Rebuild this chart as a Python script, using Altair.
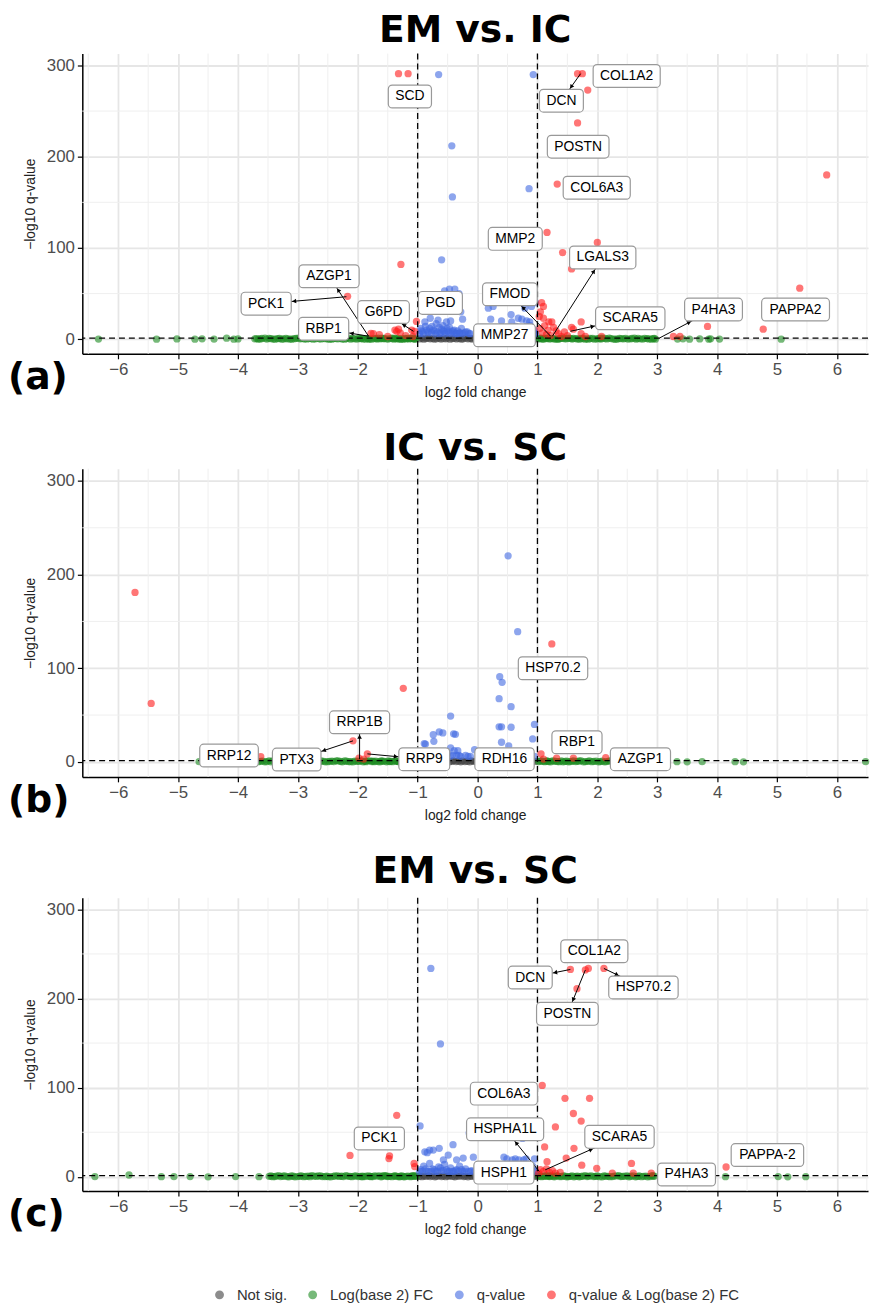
import altair as alt
import pandas as pd
import math

CATS = ["Not sig.", "Log(base 2) FC", "q-value", "q-value & Log(base 2) FC"]
COLORS = ["#404040", "#1a8a1f", "#4169e1", "#ff1a1a"]

X_MAJOR = [-6, -5, -4, -3, -2, -1, 0, 1, 2, 3, 4, 5, 6]
X_MINOR = [-6.5, -5.5, -4.5, -3.5, -2.5, -1.5, -0.5, 0.5, 1.5, 2.5, 3.5, 4.5, 5.5, 6.5]
Y_MAJOR = [0, 100, 200, 300]
Y_MINOR = [50, 150, 250]
FC_CUT = [-1, 1]
Q_CUT = [1.3]

# ---------------- Panel (a): EM vs. IC ----------------
A_ns = [(-0.97,0.3),(-0.93,1.0),(-0.9,0.1),(-0.86,0.7),(-0.83,1.2),(-0.79,0.4),(-0.75,0.9),(-0.72,0.0),
        (-0.68,0.6),(-0.64,1.1),(-0.61,0.2),(-0.57,0.8),(-0.53,0.5),(-0.5,1.2),(-0.46,0.1),(-0.42,0.7),
        (-0.39,1.0),(-0.35,0.3),(-0.31,0.9),(-0.27,0.0),(-0.24,0.6),(-0.2,1.1),(-0.16,0.4),(-0.12,0.8),
        (-0.09,0.2),(-0.05,1.0),(-0.01,0.5),(0.03,0.1),(0.07,0.9),(0.1,0.6),(0.14,1.2),(0.18,0.3),
        (0.22,0.8),(0.25,0.0),(0.29,1.0),(0.33,0.5),(0.37,0.2),(0.4,1.1),(0.44,0.7),(0.48,0.3),
        (0.52,0.9),(0.55,0.1),(0.59,0.6),(0.63,1.2),(0.67,0.4),(0.7,0.8),(0.74,0.0),(0.78,1.0),
        (0.82,0.5),(0.85,0.2),(0.89,1.1),(0.93,0.6),(0.97,0.3)]
A_fc = [(-6.33,0.2),(-5.36,0.1),(-5.02,0.3),(-4.72,0.0),(-4.6,0.4),(-4.4,0.2),(-4.19,1.1),(-4.07,0.1),(-4.0,0.3),
        (-3.72,0.4),(-3.66,0.1),(-3.6,0.8),(-3.52,0.2),(-3.45,0.6),(-3.38,0.0),(-3.31,0.9),(-3.24,0.3),
        (-3.17,0.5),(-3.1,0.1),(-3.03,1.0),(-2.96,0.4),(-2.89,0.2),(-2.82,0.7),(-2.75,0.0),(-2.68,1.1),
        (-2.61,0.3),(-2.54,0.6),(-2.47,0.1),(-2.4,0.9),(-2.33,0.4),(-2.26,0.2),(-2.19,0.8),(-2.12,0.0),
        (-2.05,0.5),(-1.98,1.2),(-1.91,0.3),(-1.84,0.7),(-1.77,0.1),(-1.7,1.0),(-1.63,0.4),(-1.56,0.8),
        (-1.49,0.2),(-1.42,1.1),(-1.35,0.5),(-1.28,0.0),(-1.21,0.9),(-1.14,0.3),(-1.08,1.2),(-1.03,0.6),
        (-1.95,0.6),(-1.8,0.2),(-1.66,1.1),(-1.52,0.4),(-1.38,0.9),(-1.24,0.1),(-1.11,0.7),(-1.05,0.0),
        (-3.55,1.2),(-3.27,0.0),(-2.99,1.2),(-2.71,0.5),(-2.43,0.0),(-2.15,1.2),(-1.87,0.0),(-1.6,1.2),
        (-1.31,0.2),(-1.17,1.0),
        (-3.69,0.7),(-3.63,0.3),(-3.48,1.0),(-3.41,0.2),(-3.34,0.6),(-3.2,0.8),(-3.13,0.2),(-3.06,0.6),
        (-2.92,0.9),(-2.85,0.3),(-2.78,1.0),(-2.64,0.5),(-2.57,1.1),(-2.5,0.3),(-2.36,0.7),(-2.29,1.0),
        (-2.22,0.1),(-2.08,0.9),(-2.01,0.2),(-1.94,1.0),(-1.82,0.5),(-1.73,0.8),(-1.68,0.2),(-1.58,0.6),
        (-1.45,0.9),(-1.4,0.1),(-1.33,1.0),(-1.26,0.6),(-1.19,0.3),(-1.12,1.1),(-1.06,0.4),
        (1.02,0.5),(1.06,1.1),(1.1,0.1),(1.15,0.8),(1.2,0.3),(1.25,1.0),(1.3,0.5),(1.35,0.0),(1.4,0.9),
        (1.46,0.4),(1.52,1.2),(1.58,0.2),(1.64,0.7),(1.7,0.0),(1.76,1.0),(1.82,0.4),(1.88,0.8),(1.95,0.1),
        (2.02,0.6),(2.09,1.1),(2.16,0.3),(2.23,0.7),(2.3,0.0),(2.37,0.9),(2.44,0.4),(2.51,0.2),(2.58,0.8),
        (2.65,0.1),(2.72,0.5),(2.79,1.0),(2.86,0.3),(2.93,0.6),(2.97,0.1),
        (1.13,1.2),(1.33,0.2),(1.55,0.9),(1.79,0.0),(2.05,1.2),(2.33,0.1),(2.62,1.2),(2.9,0.0),
        (1.04,0.8),(1.08,0.3),(1.17,1.1),(1.22,0.6),(1.28,0.2),(1.37,0.7),(1.43,1.1),(1.49,0.6),(1.6,1.0),
        (1.67,0.3),(1.73,0.8),(1.85,0.1),(1.92,0.9),(1.99,0.5),(2.06,0.2),(2.13,0.8),(2.2,1.1),(2.27,0.2),
        (2.4,0.6),(2.47,1.0),(2.55,0.4),(2.68,0.9),(2.76,0.2),(2.83,0.7),(2.95,1.0),
        (3.34,0.2),(3.43,0.5),(3.54,0.1),(3.71,0.3),(3.86,0.0),(3.89,0.4),(4.04,0.2),(5.07,0.1)]
A_q = [(-0.65,290),(0.93,290),(-0.43,212),(0.86,165),(-0.42,156),(-0.6,87),
       (-0.55,53),(-0.47,55),(-0.38,55),(-0.31,50),(-0.42,41),(-0.28,30),(-0.25,22),
       (-0.95,12),(-0.92,8),(-0.88,19),(-0.85,10),(-0.82,7),(-0.79,23),(-0.76,14),(-0.72,9),(-0.69,17),
       (-0.66,21),(-0.63,6),(-0.6,11),(-0.58,15),(-0.55,8),(-0.52,19),(-0.5,9),(-0.47,13),(-0.45,20),
       (-0.42,8),(-0.39,10),(-0.36,6),(-0.33,9),(-0.3,7),(-0.27,12),(-0.22,7),(-0.17,8),(-0.12,6),
       (-0.97,6),(-0.94,9),(-0.9,6),(-0.87,14),(-0.83,8),(-0.8,12),(-0.77,7),(-0.74,10),(-0.7,6),
       (-0.67,8),(-0.64,13),(-0.61,7),(-0.57,9),(-0.54,6),(-0.51,12),(-0.48,7),(-0.44,6),(-0.41,9),
       (-0.38,7),(-0.34,6),(-0.29,7),(-0.25,6),(-0.2,8),(-0.14,6),
       (0.18,34),(0.26,36),(0.22,22),(0.4,20),(0.56,27),(0.57,19),(0.68,23),(0.74,22),(0.79,34),
       (0.82,20),(0.87,19),(0.9,36),(0.92,44),(0.88,47),(0.97,40),
       (0.15,6),(0.22,7),(0.3,6),(0.35,10),(0.42,7),(0.48,12),(0.53,6),(0.6,8),(0.64,14),(0.7,7),
       (0.75,11),(0.8,6),(0.84,9),(0.88,15),(0.92,7),(0.95,10),(0.97,6),
       (0.26,8),(0.33,6),(0.45,9),(0.5,6),(0.57,7),(0.66,10),(0.72,6),(0.78,8),(0.86,6),(0.9,12),(0.96,7)]
A_both = [(-1.32,291),(-1.16,291),(1.67,291),(1.75,291),(1.84,273),(1.67,237),(5.83,180),(1.33,170),
          (1.16,117),(2.0,106),(1.42,95),(-1.28,82),(1.57,77),(5.38,56),(-2.17,47),(3.84,14),(4.77,11),
          (-1.02,19.5),(1.07,40),(1.1,36),(1.1,23),(1.19,19),(1.24,19),(1.31,9),(1.73,19),(1.57,13),
          (1.6,11),(1.73,6),(1.8,3),(2.07,3),(3.27,3),(3.38,3),(1.04,12),(1.08,7),(1.12,15),(1.15,5),
          (1.18,10),(1.22,4),(1.27,13),(1.35,6),(1.4,3),(1.45,8),(1.5,4),(1.03,25),(1.05,30),
          (-1.35,8.7),(-1.29,7),(-1.1,10),(-1.05,8.7),(-1.78,6.5),(-1.74,6),(-1.64,5),(-1.38,10),
          (-1.32,11),(-1.5,3),(-1.2,4),(-1.08,3)]
A_lab = ["SCD", "COL1A2", "DCN", "POSTN", "COL6A3", "MMP2", "LGALS3", "FMOD", "MMP27",
         "SCARA5", "P4HA3", "PAPPA2", "PCK1", "AZGP1", "G6PD", "RBP1", "PGD"]
A_lab_x = [-1.13, 2.49, 1.4, 1.68, 1.99, 0.63, 2.09, 0.54, 0.45, 2.55, 3.94, 5.31, -3.53, -2.48, -1.57, -2.57, -0.62]
A_lab_y = [266, 288.5, 261.4, 211, 166, 110, 89.6, 49.3, 4.3, 23, 32.5, 32.5, 39, 69, 29.8, 11.4, 39.8]
A_pt_x = [None, None, 1.72, None, None, None, 1.25, 1.22, None, 1.55, 3.04, None, -2.19, -1.82, -1.07, -1.82, None]
A_pt_y = [None, None, 291, None, None, None, 3.3, 3.3, None, 8.7, 1.4, None, 46.6, 3.3, 8.7, 3.3, None]

# ---------------- Panel (b): IC vs. SC ----------------
B_ns = [(-0.98,0.5),(-0.94,0.1),(-0.91,1.1),(-0.87,0.4),(-0.84,0.8),(-0.8,0.0),(-0.76,1.2),(-0.73,0.3),
        (-0.69,0.7),(-0.65,0.1),(-0.62,1.0),(-0.58,0.5),(-0.54,0.2),(-0.51,0.9),(-0.47,0.0),(-0.43,0.6),
        (-0.4,1.2),(-0.36,0.3),(-0.32,0.8),(-0.28,0.1),(-0.25,1.0),(-0.21,0.4),(-0.17,0.7),(-0.13,0.0),
        (-0.1,1.1),(-0.06,0.5),(-0.02,0.2),(0.02,0.9),(0.06,0.4),(0.09,1.2),(0.13,0.1),(0.17,0.7),
        (0.21,0.3),(0.24,1.0),(0.28,0.6),(0.32,0.0),(0.36,0.9),(0.39,0.4),(0.43,1.1),(0.47,0.2),
        (0.51,0.8),(0.54,0.5),(0.58,0.0),(0.62,1.0),(0.66,0.3),(0.69,0.7),(0.73,1.2),(0.77,0.1),
        (0.81,0.6),(0.84,0.9),(0.88,0.2),(0.92,1.0),(0.96,0.5)]
B_fc = [(-4.65,0.3),
        (-3.66,0.2),(-3.59,0.9),(-3.52,0.4),(-3.45,0.0),(-3.38,0.7),(-3.31,0.3),(-3.24,1.1),(-3.17,0.1),
        (-3.1,0.6),(-3.03,0.2),(-2.96,0.9),(-2.89,0.5),(-2.82,0.0),(-2.75,0.8),(-2.68,0.3),(-2.61,1.0),
        (-2.54,0.1),(-2.47,0.6),(-2.4,0.4),(-2.33,1.1),(-2.26,0.0),(-2.19,0.7),(-2.12,0.2),(-2.05,0.9),
        (-1.98,0.5),(-1.91,0.1),(-1.84,1.2),(-1.77,0.4),(-1.7,0.8),(-1.63,0.0),(-1.56,0.6),(-1.49,1.0),
        (-1.42,0.2),(-1.35,0.7),(-1.28,0.4),(-1.21,1.1),(-1.14,0.1),(-1.08,0.8),(-1.03,0.3),
        (-1.88,0.7),(-1.73,0.2),(-1.59,0.9),(-1.45,0.5),(-1.31,0.0),(-1.18,0.6),(-1.06,1.2),
        (-3.48,1.2),(-3.2,0.0),(-2.92,1.2),(-2.64,0.1),(-2.36,1.2),(-2.08,0.0),(-1.8,1.2),(-1.52,0.1),(-1.24,1.2),
        (-3.62,0.6),(-3.55,0.1),(-3.42,1.0),(-3.35,0.4),(-3.27,0.8),(-3.13,0.5),(-3.06,1.0),(-2.99,0.3),
        (-2.86,0.8),(-2.78,0.2),(-2.71,1.0),(-2.57,0.6),(-2.5,0.2),(-2.43,0.9),(-2.29,0.5),(-2.22,1.0),
        (-2.15,0.3),(-2.01,0.7),(-1.94,1.1),(-1.86,0.2),(-1.75,0.9),(-1.66,0.4),(-1.61,1.1),(-1.47,0.3),
        (-1.38,1.0),(-1.33,0.5),(-1.26,0.8),(-1.16,0.4),(-1.1,1.0),(-1.04,0.6),
        (1.02,0.4),(1.07,1.0),(1.12,0.2),(1.17,0.7),(1.22,0.0),(1.28,0.9),(1.34,0.3),(1.4,1.1),(1.46,0.5),
        (1.52,0.1),(1.58,0.8),(1.64,0.3),(1.7,1.0),(1.77,0.0),(1.84,0.6),(1.91,0.2),(1.98,0.9),(2.05,0.4),
        (2.12,0.1),(2.19,0.8),(2.26,0.3),(2.33,1.0),(2.4,0.5),(2.47,0.0),(2.54,0.7),(2.61,0.2),(2.68,0.9),
        (2.75,0.4),(2.82,0.1),(2.89,0.6),(2.96,0.3),(3.03,0.8),(3.1,0.2),
        (1.15,1.2),(1.43,0.0),(1.73,1.2),(2.02,0.0),(2.3,1.2),(2.58,0.0),(2.86,1.2),
        (1.04,0.9),(1.1,0.5),(1.19,0.3),(1.25,1.1),(1.31,0.6),(1.37,0.2),(1.49,0.9),(1.55,0.4),(1.61,1.1),
        (1.67,0.6),(1.8,0.3),(1.87,1.0),(1.94,0.5),(2.08,0.8),(2.15,0.4),(2.22,1.1),(2.36,0.2),(2.43,0.8),
        (2.5,0.3),(2.64,0.6),(2.71,1.1),(2.78,0.1),(2.92,0.9),(2.99,0.5),(3.06,0.2),
        (3.33,0.2),(3.5,0.1),(3.75,0.3),(4.3,0.2),(4.44,0.1),(6.48,0.4)]
B_q = [(0.51,220),(0.67,139),(0.37,91),(0.41,85),(0.36,67.5),(0.56,59),(-0.45,49),(-0.4,30),
       (-0.64,32),(-0.74,29),(-0.73,22),(-0.89,19.6),(0.36,37.5),(0.4,37.5),(0.56,37),(0.95,40),
       (0.92,24.6),(0.4,21),(0.52,17),(-0.45,15),(-0.39,12),(-0.33,12),(-0.05,13),(-0.58,31),
       (-0.37,29.5),(-0.87,19),
       (-0.95,6),(-0.85,8),(-0.78,6),(-0.7,10),(-0.62,7),(-0.55,6),(-0.5,9),(-0.42,7),(-0.35,7),
       (-0.28,6),(-0.2,7),(-0.12,6),(0.3,6),(0.45,8),(0.6,7),(0.7,10),(0.8,6),(0.88,7),(0.95,6),
       (-0.9,6),(-0.66,6),(-0.46,6),(-0.31,7),(-0.16,6),(0.52,6),(0.75,7)]
B_both = [(-5.72,181),(-5.45,62.5),(-1.24,78.6),(1.24,126),(-2.08,22.5),(-3.62,5.6),(-1.98,4),
          (-1.84,8.6),(1.06,8.6),(1.32,4),(1.6,4),(2.14,4.5),(-1.9,3),(1.1,3)]
B_lab = ["RRP12", "PTX3", "RRP1B", "RRP9", "RDH16", "HSP70.2", "RBP1", "AZGP1"]
B_lab_x = [-4.15, -3.02, -1.97, -0.89, 0.45, 1.26, 1.66, 2.72]
B_lab_y = [6.8, 2.5, 42.3, 2.9, 2.9, 100, 21, 2.9]
B_pt_x = [None, -2.08, -1.97, -1.84, None, None, None, None]
B_pt_y = [None, 22.5, 3, 8.6, None, None, None, None]

# ---------------- Panel (c): EM vs. SC ----------------
C_ns = [(-0.97,0.6),(-0.93,0.1),(-0.9,1.0),(-0.86,0.4),(-0.82,1.2),(-0.79,0.2),(-0.75,0.8),(-0.71,0.0),
        (-0.68,0.6),(-0.64,1.1),(-0.6,0.3),(-0.57,0.9),(-0.53,0.1),(-0.49,0.7),(-0.46,1.2),(-0.42,0.4),
        (-0.38,0.0),(-0.35,0.9),(-0.31,0.5),(-0.27,1.1),(-0.23,0.2),(-0.2,0.7),(-0.16,0.0),(-0.12,1.0),
        (-0.09,0.4),(-0.05,0.8),(-0.01,0.1),(0.03,1.1),(0.06,0.5),(0.1,0.2),(0.14,0.9),(0.17,0.4),
        (0.21,1.2),(0.25,0.0),(0.29,0.7),(0.32,0.3),(0.36,1.0),(0.4,0.5),(0.43,0.1),(0.47,0.8),
        (0.51,1.2),(0.54,0.3),(0.58,0.6),(0.62,0.0),(0.65,1.0),(0.69,0.4),(0.73,0.8),(0.76,0.1),
        (0.8,1.1),(0.84,0.5),(0.87,0.2),(0.91,0.9),(0.95,0.4),(0.98,1.0)]
C_fc = [(-6.39,0.2),(-5.82,2.0),(-5.28,0.1),(-5.07,0.3),(-4.8,0.2),(-4.5,0.0),(-4.04,0.3),(-3.65,0.1),
        (-3.48,0.5),(-3.42,0.1),(-3.36,0.8),(-3.29,0.3),(-3.22,1.0),(-3.15,0.0),(-3.08,0.6),(-3.01,0.2),
        (-2.94,0.9),(-2.87,0.4),(-2.8,0.1),(-2.73,0.7),(-2.66,1.1),(-2.59,0.3),(-2.52,0.6),(-2.45,0.0),
        (-2.38,0.9),(-2.31,0.4),(-2.24,0.2),(-2.17,0.8),(-2.1,0.1),(-2.03,1.0),(-1.96,0.5),(-1.89,0.2),
        (-1.82,0.9),(-1.75,0.3),(-1.68,0.7),(-1.61,0.0),(-1.54,1.1),(-1.47,0.4),(-1.4,0.8),(-1.33,0.2),
        (-1.26,1.0),(-1.19,0.5),(-1.12,0.1),(-1.06,0.9),(-1.02,0.4),
        (-1.92,0.6),(-1.78,0.1),(-1.64,1.0),(-1.5,0.3),(-1.36,0.7),(-1.22,0.0),(-1.09,1.2),
        (-3.32,1.2),(-3.05,0.0),(-2.77,1.2),(-2.49,0.1),(-2.2,1.2),(-1.93,0.0),(-1.57,1.2),(-1.3,0.0),
        (-3.45,0.9),(-3.39,0.3),(-3.25,0.6),(-3.18,0.2),(-3.11,0.9),(-2.97,0.6),(-2.9,0.1),(-2.83,0.8),
        (-2.69,0.4),(-2.62,0.9),(-2.55,0.2),(-2.41,0.5),(-2.34,1.1),(-2.27,0.6),(-2.13,0.4),(-2.06,0.8),
        (-1.99,0.2),(-1.86,0.7),(-1.79,0.4),(-1.72,1.1),(-1.59,0.5),(-1.52,0.9),(-1.43,0.1),(-1.38,1.1),
        (-1.29,0.6),(-1.24,0.3),(-1.16,0.8),(-1.1,0.4),(-1.04,1.0),
        (1.02,0.6),(1.07,0.1),(1.12,1.0),(1.17,0.4),(1.22,0.8),(1.28,0.0),(1.34,1.1),(1.4,0.3),(1.46,0.7),
        (1.52,0.2),(1.58,1.0),(1.64,0.5),(1.7,0.0),(1.76,0.8),(1.83,0.3),(1.9,1.1),(1.97,0.4),(2.04,0.1),
        (2.11,0.9),(2.18,0.5),(2.25,0.2),(2.32,1.0),(2.39,0.3),(2.46,0.7),(2.53,0.0),(2.6,0.9),(2.67,0.4),
        (2.74,0.1),(2.81,0.8),(2.88,0.3),(2.95,0.6),
        (1.2,1.2),(1.49,0.0),(1.8,1.2),(2.08,0.0),(2.36,1.2),(2.64,0.0),(2.91,1.2),
        (1.04,0.9),(1.1,0.4),(1.15,1.2),(1.2,0.2),(1.26,0.6),(1.31,0.9),(1.37,0.2),(1.43,1.0),(1.55,0.5),
        (1.61,0.0),(1.67,0.8),(1.73,0.4),(1.86,0.7),(1.94,0.2),(2.0,1.0),(2.14,0.6),(2.21,0.1),(2.28,0.8),
        (2.42,0.4),(2.5,1.0),(2.56,0.6),(2.7,0.9),(2.77,0.5),(2.84,0.0),(2.93,0.9),
        (4.14,0.1),(5.02,0.2),(5.18,0.0),(5.48,0.1)]
C_q = [(-0.78,233.7),(-0.62,149),(-0.96,57),(-0.14,49),(0.75,43),(-0.88,28),(-0.74,30),(-0.64,32),
       (-0.41,36),(-0.49,24.4),(-0.57,19),(-0.35,19),(-0.24,21),(-0.07,22),(0.44,22),(0.58,19),
       (0.69,19),(0.77,19),(0.63,20),(0.81,20),(0.95,20),(0.49,20),(-0.84,27),(-0.8,30),
       (-0.95,8),(-0.9,12),(-0.85,6),(-0.8,15),(-0.75,9),(-0.7,6),(-0.65,11),(-0.6,7),(-0.55,14),
       (-0.5,6),(-0.45,10),(-0.4,6),(-0.35,8),(-0.3,12),(-0.25,6),(-0.2,9),(-0.15,6),(-0.1,7),
       (-0.05,6),(0.3,6),(0.38,9),(0.45,6),(0.52,11),(0.6,6),(0.66,13),(0.72,6),(0.8,9),(0.86,6),
       (0.92,12),(0.97,6),
       (-0.97,6),(-0.92,6),(-0.87,9),(-0.82,6),(-0.77,6),(-0.72,8),(-0.67,6),(-0.62,10),(-0.57,7),
       (-0.52,8),(-0.47,6),(-0.42,6),(-0.37,7),(-0.32,6),(-0.27,8),(-0.22,6),(-0.12,6),(0.02,6),
       (0.18,6),(0.25,8),(0.34,6),(0.41,6),(0.49,7),(0.56,8),(0.63,6),(0.69,7),(0.76,6),(0.83,6),(0.89,8),(0.94,7)]
C_both = [(1.55,232.6),(1.8,232),(1.85,233.7),(2.11,233.7),(1.66,211),(1.08,102.5),(1.46,88),(1.87,88),
          (-1.35,69),(1.6,71),(1.73,62.5),(1.3,56),(1.12,33.5),(1.61,32),(-2.13,24),(-1.47,23.5),
          (-1.48,20.5),(1.48,21),(1.16,17),(2.57,15),(1.74,13),(1.99,9.5),(4.15,11),(-1.06,15),
          (-1.05,11.5),(2.25,4),(2.6,4),(2.9,4),(1.05,8),(1.1,6),(1.15,9),(1.2,5),(1.25,7),(1.3,4),
          (1.38,5),(1.02,4)]
C_lab = ["COL1A2", "DCN", "HSP70.2", "POSTN", "COL6A3", "HSPHA1L", "HSPH1", "SCARA5", "P4HA3", "PAPPA-2", "PCK1"]
C_lab_x = [1.95, 0.88, 2.77, 1.5, 0.44, 0.46, 0.44, 2.37, 3.49, 4.84, -1.64]
C_lab_y = [253, 223.5, 212.4, 182.8, 93.3, 53.3, 4.7, 44.8, 2.6, 24.4, 43]
C_pt_x = [None, 1.55, 2.11, 1.8, None, 1.03, None, 1.13, None, None, None]
C_pt_y = [None, 232.6, 233.7, 232, None, 6, None, 7.8, None, None, None]

# ---------------- layout / style ----------------
XDOM = [-6.6, 6.52]
YDOM = [-16, 313]
W = 793
FONT = "Liberation Sans"
CHARW = {"I": 0.278, "M": 0.833, "C": 0.722, "D": 0.722, "G": 0.778, "H": 0.722, "N": 0.722,
         "O": 0.778, "R": 0.722, "L": 0.556, "F": 0.611, "T": 0.611, ".": 0.278, "-": 0.333}


def text_w(s, size=14):
    w = 0
    for ch in s:
        if ch.isdigit():
            w += 0.556
        else:
            w += CHARW.get(ch, 0.667)
    return w * size


def panel(title, tag, ns, fc, q, both, lab, lx, ly, px, py, height, toff):
    rows = []
    for cat, pts in zip(CATS, [ns, fc, q, both]):
        for (xv, yv) in pts:
            rows.append({"x": xv, "y": yv, "cat": cat})
    df = pd.DataFrame(rows)

    xs = alt.Scale(domain=XDOM, nice=False, zero=False)
    ys = alt.Scale(domain=YDOM, nice=False, zero=False)
    ux = W / (XDOM[1] - XDOM[0])
    uy = height / (YDOM[1] - YDOM[0])

    xaxis = alt.Axis(values=X_MAJOR, title="log2 fold change", labelOverlap=False, labelFlush=False)
    yaxis = alt.Axis(values=Y_MAJOR, title="\u2212log10 q-value", labelOverlap=False)

    minx = alt.Chart(pd.DataFrame({"v": X_MINOR})).mark_rule(color="#efefef", strokeWidth=1).encode(
        x=alt.X("v:Q", scale=xs, axis=xaxis))
    miny = alt.Chart(pd.DataFrame({"h": Y_MINOR})).mark_rule(color="#efefef", strokeWidth=1).encode(
        y=alt.Y("h:Q", scale=ys, axis=yaxis))

    color = alt.Color("cat:N", scale=alt.Scale(domain=CATS, range=COLORS), legend=alt.Legend(title=None))
    pts = alt.Chart(df).mark_circle(size=54, opacity=0.6).encode(
        x=alt.X("x:Q", scale=xs, axis=xaxis),
        y=alt.Y("y:Q", scale=ys, axis=yaxis),
        color=color,
    )

    vr = alt.Chart(pd.DataFrame({"v": FC_CUT})).mark_rule(
        color="black", strokeDash=[6, 4], strokeWidth=1.3).encode(x=alt.X("v:Q", scale=xs, axis=xaxis))
    hr = alt.Chart(pd.DataFrame({"h": Q_CUT})).mark_rule(
        color="black", strokeDash=[6, 4], strokeWidth=1.3).encode(y=alt.Y("h:Q", scale=ys, axis=yaxis))

    seg_rows, box_rows, arr_rows = [], [], []
    for t, a, b, c, d in zip(lab, lx, ly, px, py):
        hw_px = text_w(t) / 2 + 7
        hh_px = 11.5
        hw = hw_px / ux
        hh = hh_px / uy
        box_rows.append({"t": t, "x": a, "y": b, "x1": a - hw, "x2": a + hw, "y1": b - hh, "y2": b + hh})
        if c is not None:
            seg_rows.append({"x": c, "y": d, "x2": a, "y2": b})
            # arrowhead where the leader meets the label box (pixel geometry)
            dxp = (a - c) * ux
            dyp = -(b - d) * uy
            L = math.hypot(dxp, dyp)
            tx = hw_px / abs(dxp) if abs(dxp) > 1e-9 else 1e9
            ty = hh_px / abs(dyp) if abs(dyp) > 1e-9 else 1e9
            tb = min(tx, ty)
            back = tb + 3.0 / L
            ex = a - back * dxp / ux
            ey = b + back * dyp / uy
            ang = math.degrees(math.atan2(dxp, -dyp)) % 360
            arr_rows.append({"x": ex, "y": ey, "ang": ang})
    bdf = pd.DataFrame(box_rows)
    sdf = pd.DataFrame(seg_rows)
    adf = pd.DataFrame(arr_rows)

    segs = alt.Chart(sdf).mark_rule(color="black", strokeWidth=1).encode(
        x=alt.X("x:Q", scale=xs, axis=xaxis), y=alt.Y("y:Q", scale=ys, axis=yaxis), x2="x2:Q", y2="y2:Q")
    arrows = alt.Chart(adf).mark_point(shape="triangle-up", filled=True, size=22, color="black", opacity=1).encode(
        x=alt.X("x:Q", scale=xs, axis=xaxis), y=alt.Y("y:Q", scale=ys, axis=yaxis),
        angle=alt.Angle("ang:Q", scale=None))
    boxes = alt.Chart(bdf).mark_rect(fill="white", stroke="#999999", strokeWidth=1.2, cornerRadius=4).encode(
        x=alt.X("x1:Q", scale=xs, axis=xaxis), x2="x2:Q", y=alt.Y("y1:Q", scale=ys, axis=yaxis), y2="y2:Q")
    texts = alt.Chart(bdf).mark_text(font=FONT, fontSize=14, color="black").encode(
        x=alt.X("x:Q", scale=xs, axis=xaxis), y=alt.Y("y:Q", scale=ys, axis=yaxis), text="t:N")

    tagm = alt.Chart(pd.DataFrame({"t": [tag]})).mark_text(
        font="DejaVu Sans", fontSize=38, fontWeight="bold", align="left", baseline="middle", color="black"
    ).encode(x=alt.value(-75), y=alt.value(height + 24), text="t:N")

    return alt.layer(minx, miny, pts, vr, hr, segs, arrows, boxes, texts, tagm).properties(
        width=W, height=height,
        title=alt.TitleParams(title, font="DejaVu Sans", fontSize=38, fontWeight="bold",
                              anchor="middle", color="black", offset=toff),
    )


pa = panel("EM vs. IC", "(a)", A_ns, A_fc, A_q, A_both, A_lab, A_lab_x, A_lab_y, A_pt_x, A_pt_y, 303, 3)
pb = panel("IC vs. SC", "(b)", B_ns, B_fc, B_q, B_both, B_lab, B_lab_x, B_lab_y, B_pt_x, B_pt_y, 311, 0)
pc = panel("EM vs. SC", "(c)", C_ns, C_fc, C_q, C_both, C_lab, C_lab_x, C_lab_y, C_pt_x, C_pt_y, 296, 6)

chart = alt.vconcat(pa, pb, pc, spacing=31).resolve_scale(color="shared").properties(
    padding={"left": 0, "top": -2, "right": 0, "bottom": 0}
).configure_view(stroke=None).configure_axis(
    domainColor="black", domainWidth=1.5, tickColor="black", tickWidth=1.2, tickSize=5,
    gridColor="#e6e6e6", gridWidth=1.8, labelFont=FONT, labelFontSize=17, labelColor="#4d4d4d",
    labelPadding=3, titleFont=FONT, titleFontSize=14, titleFontWeight="normal", titleColor="#222222",
).configure_axisX(titlePadding=8).configure_axisY(titlePadding=9).configure_legend(
    orient="none", legendX=131, legendY=1245, direction="horizontal",
    symbolType="circle", symbolSize=80, symbolOpacity=0.6, symbolStrokeWidth=0, labelLimit=300,
    labelFont=FONT, labelFontSize=15, labelColor="#333333", labelOffset=10, columnPadding=18,
)

chart.save("out.html", embed_options={"renderer": "svg", "actions": False})
